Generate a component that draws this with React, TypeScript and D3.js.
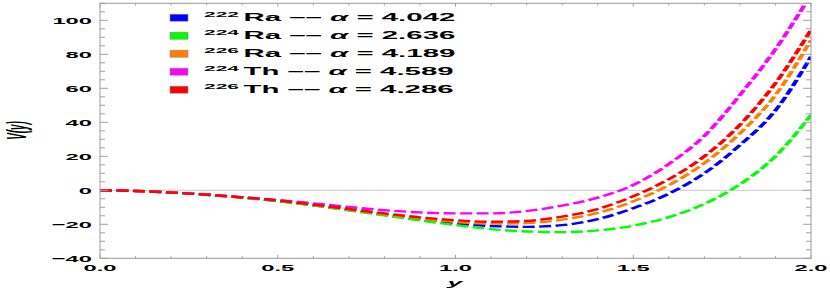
import { useEffect, useRef } from "react";
import * as d3 from "d3";

// sample positions along y (horizontal axis)
const yGrid = [0, 0.1, 0.2, 0.3, 0.4, 0.5, 0.6, 0.7, 0.8, 0.9, 1.0, 1.1, 1.2, 1.3, 1.4, 1.5, 1.6, 1.7, 1.8, 1.9, 2.0];

// V(y)
const ra222 = [0, -0.4, -1.3, -2.6, -4.3, -6.3, -8.8, -11.6, -14.4, -17.1, -19.6, -21.0, -21.5, -20.5, -17.0, -10.5, -2, 10, 26.6, 47, 78.6];
const ra224 = [0, -0.4, -1.3, -2.6, -4.3, -6.3, -8.9, -11.8, -14.8, -17.7, -20.4, -22.8, -24.2, -24.6, -23.6, -20.8, -15.8, -8, 3.5, 20, 44.3];
const ra226 = [0, -0.4, -1.3, -2.6, -4.2, -6.1, -8.6, -11.3, -14.0, -16.5, -18.6, -19.6, -19.3, -17.3, -13.3, -6.5, 3, 16, 33.5, 56, 88.4];
const th224 = [0, -0.4, -1.3, -2.5, -4.0, -5.7, -7.7, -9.8, -11.7, -13.0, -13.6, -13.6, -12.2, -9.0, -4.3, 3.1, 15.5, 32, 56, 83, 115];
const th226 = [0, -0.4, -1.3, -2.6, -4.2, -6.0, -8.4, -11.0, -13.6, -15.9, -17.6, -18.5, -18.0, -15.5, -11.0, -3.5, 6.5, 20, 38.5, 63, 94.3];

const massNumbers = ["222", "224", "226", "224", "226"];
const elements = ["Ra", "Ra", "Ra", "Th", "Th"];
const alphas = ["4.042", "2.636", "4.189", "4.589", "4.286"];
const colors = ["#0000ff", "#00ff00", "#ff8000", "#ff00ff", "#ff0000"];

const xTicks = [0, 0.5, 1, 1.5, 2];
const xTickLabels = ["0.0", "0.5", "1.0", "1.5", "2.0"];
const yTicks = [-40, -20, 0, 20, 40, 60, 80, 100];
const yTickLabels = ["\u221240", "\u221220", "0", "20", "40", "60", "80", "100"];

const FONT = "'Liberation Sans', Arial, Helvetica, sans-serif";

function Chart() {
  const ref = useRef<SVGSVGElement>(null);

  useEffect(() => {
    const w = 830;
    const h = 291;
    const left = 100, right = 811, top = 3.3, bottom = 258.3;
    const K = 0.55; // strokes look squashed vertically in the original

    const svg = d3.select(ref.current).attr("width", w).attr("height", h);
    svg.selectAll("*").remove();

    const x = d3.scaleLinear().domain([0, 2]).range([left, right]);
    const y = d3.scaleLinear().domain([-40, 110]).range([bottom, top]);

    svg.append("rect").attr("width", w).attr("height", h).attr("fill", "#fff");

    svg.append("defs").append("clipPath").attr("id", "plot")
      .append("rect")
      .attr("x", left).attr("y", top)
      .attr("width", right - left).attr("height", bottom - top);

    // zero line
    svg.append("line")
      .attr("x1", left).attr("x2", right)
      .attr("y1", y(0)).attr("y2", y(0))
      .attr("stroke", "#d4d4d4").attr("stroke-width", 1.2);

    const series = [ra222, ra224, ra226, th224, th226];
    const line = d3.line<number>()
      .x((_, i) => x(yGrid[i]))
      .y(d => y(d) / K)
      .curve(d3.curveMonotoneX);

    const g = svg.append("g").attr("clip-path", "url(#plot)")
      .append("g").attr("transform", `scale(1, ${K})`);
    series.forEach((s, i) => {
      g.append("path")
        .attr("d", line(s))
        .attr("fill", "none")
        .attr("stroke", colors[i])
        .attr("stroke-width", 2.4 / K)
        .attr("stroke-dasharray", "12,4.5");
    });

    // frame
    svg.append("rect")
      .attr("x", left).attr("y", top)
      .attr("width", right - left).attr("height", bottom - top)
      .attr("fill", "none").attr("stroke", "#999").attr("stroke-width", 1);

    const ticks = svg.append("g").attr("stroke", "#a0a0a0").attr("stroke-width", 1);
    const xMinor = d3.range(0, 2.0001, 0.1);
    xMinor.forEach(v => {
      const major = xTicks.some(t => Math.abs(t - v) < 1e-6);
      const len = major ? 3.5 : 2.2;
      ticks.append("line").attr("x1", x(v)).attr("x2", x(v)).attr("y1", bottom).attr("y2", bottom - len);
      ticks.append("line").attr("x1", x(v)).attr("x2", x(v)).attr("y1", top).attr("y2", top + len);
    });
    const yMinor = d3.range(-40, 110.0001, 5);
    yMinor.forEach(v => {
      const major = yTicks.includes(v);
      const len = major ? 8 : 5;
      ticks.append("line").attr("x1", left).attr("x2", left + len).attr("y1", y(v)).attr("y2", y(v));
      ticks.append("line").attr("x1", right).attr("x2", right - len).attr("y1", y(v)).attr("y2", y(v));
    });

    // tick labels (stretched wide like the original)
    yTicks.forEach((v, i) => {
      svg.append("text")
        .attr("transform", `translate(92, ${y(v) + 3.5}) scale(2.5, 1)`)
        .attr("text-anchor", "end")
        .attr("font-family", FONT).attr("font-weight", "bold").attr("font-size", 9.5)
        .text(yTickLabels[i]);
    });
    xTicks.forEach((v, i) => {
      svg.append("text")
        .attr("transform", `translate(${x(v)}, 271) scale(2.5, 1)`)
        .attr("text-anchor", "middle")
        .attr("font-family", FONT).attr("font-weight", "bold").attr("font-size", 9.5)
        .text(xTickLabels[i]);
    });

    // axis labels
    svg.append("text")
      .attr("transform", `translate(455, 286) scale(2.8, 1)`)
      .attr("text-anchor", "middle")
      .attr("font-family", FONT).attr("font-weight", "bold").attr("font-style", "italic")
      .attr("font-size", 9.5)
      .text("y");
    svg.append("text")
      .attr("transform", `translate(26, 130.5) rotate(-90) scale(0.36, 1)`)
      .attr("text-anchor", "middle")
      .attr("font-family", FONT).attr("font-style", "italic").attr("font-weight", "bold")
      .attr("font-size", 27)
      .text("V(y)");

    // legend
    massNumbers.forEach((m, i) => {
      const cy = 17.7 + 18 * i;
      svg.append("rect")
        .attr("x", 170).attr("y", cy - 3.5).attr("width", 18).attr("height", 7)
        .attr("fill", colors[i]).attr("stroke", "#888").attr("stroke-width", 0.6);
      const t = svg.append("text")
        .attr("transform", `translate(204, ${cy + 3.3}) scale(2.8, 1)`)
        .attr("font-family", FONT).attr("font-weight", "bold").attr("font-size", 10.5)
        .style("white-space", "pre");
      t.append("tspan").attr("font-size", 7.5).attr("dy", -4).text(m);
      t.append("tspan").attr("dy", 4).attr("dx", 1.6).text(elements[i] + " \u2013\u2013 ");
      t.append("tspan").attr("font-style", "italic").text("\u03b1");
      t.append("tspan").text(" = " + alphas[i]);
    });
  }, []);

  return <svg ref={ref} style={{ position: "absolute", left: 0, top: 0 }} />;
}

export default function App() {
  return <Chart />;
}
